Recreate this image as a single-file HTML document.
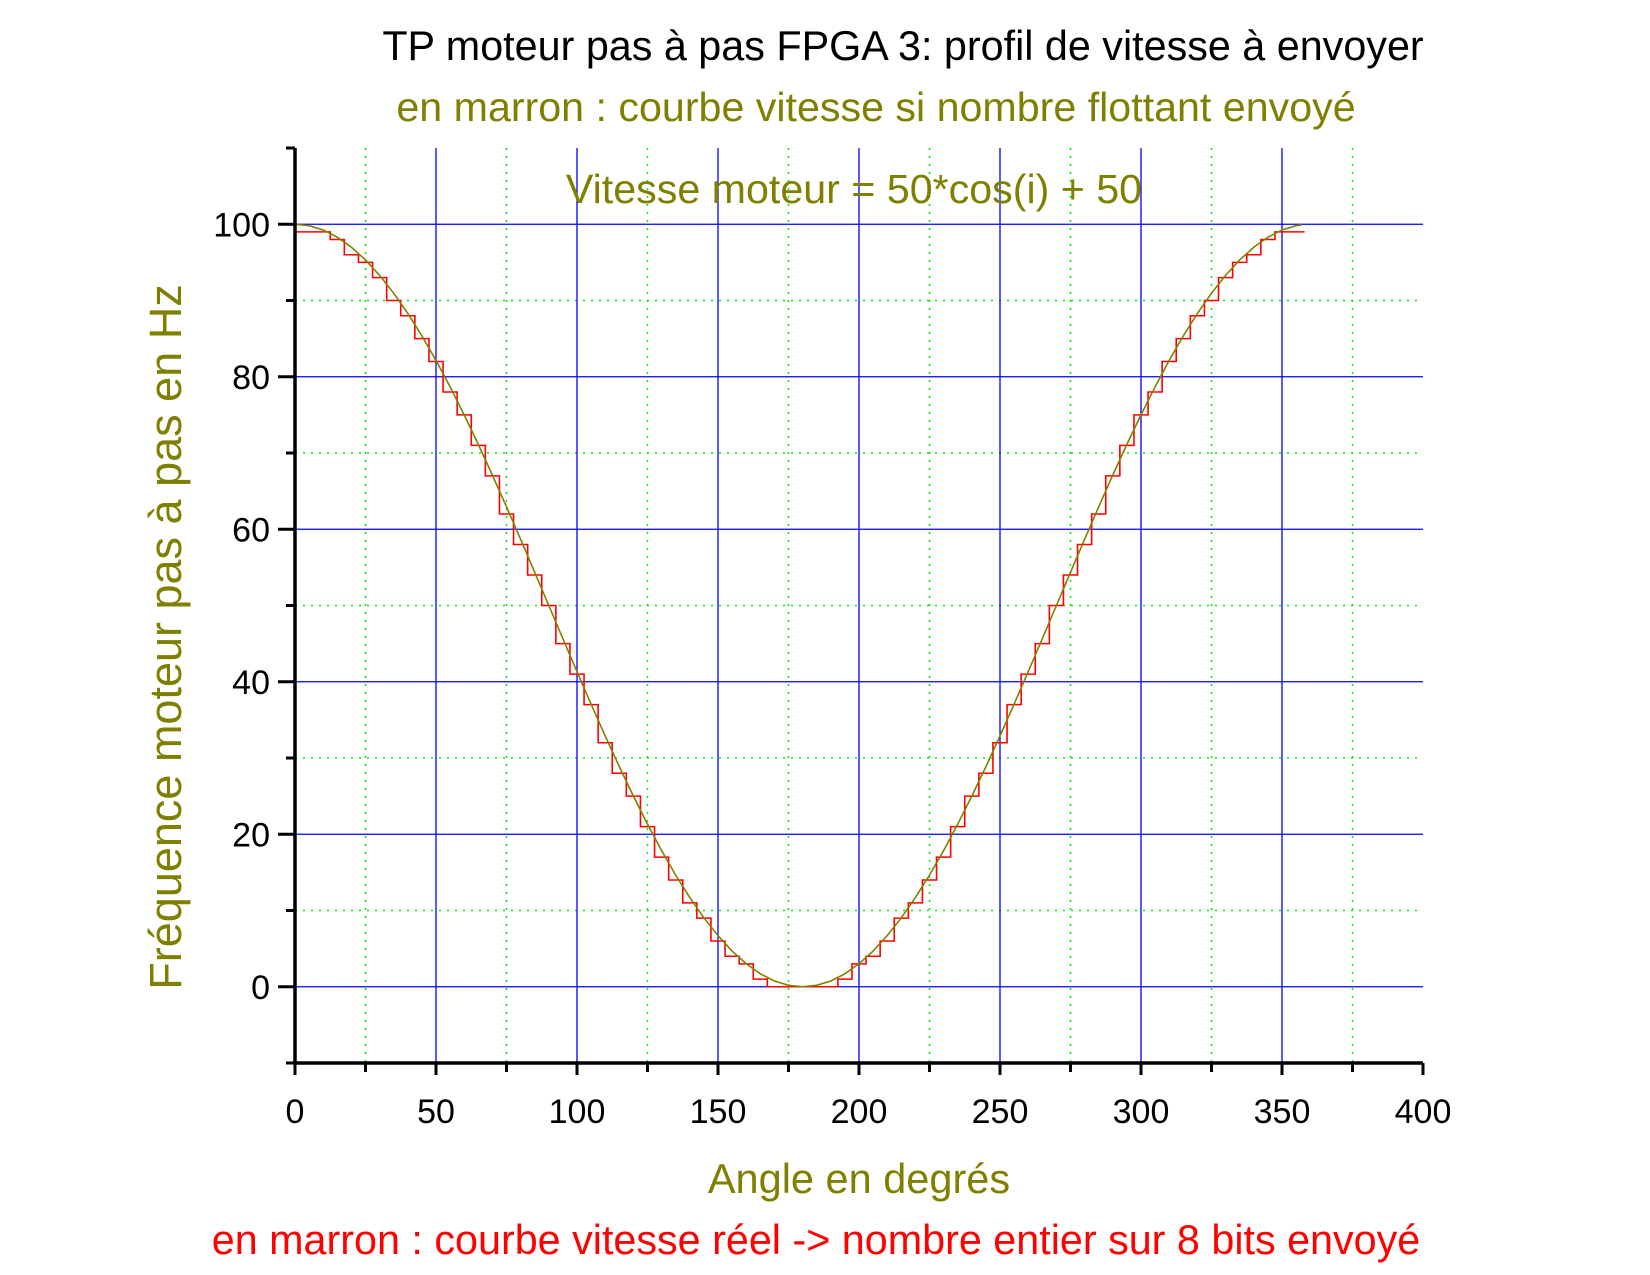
<!DOCTYPE html>
<html><head><meta charset="utf-8"><style>
html,body{margin:0;padding:0;background:#fff;}
svg{display:block;font-family:"Liberation Sans",sans-serif;}
</style></head><body>
<svg id="chart" width="1650" height="1275" viewBox="0 0 1650 1275" xmlns="http://www.w3.org/2000/svg">
<text x="903" y="60" font-size="41.3" text-anchor="middle" fill="#000">TP moteur pas à pas FPGA 3: profil de vitesse à envoyer</text>
<text x="876" y="121" font-size="41.2" text-anchor="middle" fill="#808000">en marron : courbe vitesse si nombre flottant envoyé</text>
<g id="grid"></g>
<g id="series"></g>
<g id="axes"></g>
<text x="854" y="203" font-size="41.2" text-anchor="middle" fill="#808000">Vitesse moteur = 50*cos(i) + 50</text>
<text transform="translate(181,637) rotate(-90)" font-size="45" text-anchor="middle" fill="#808000">Fréquence moteur pas à pas en Hz</text>
<text x="859" y="1193" font-size="41.5" text-anchor="middle" fill="#808000">Angle en degrés</text>
<text x="816" y="1254" font-size="41.3" text-anchor="middle" fill="#ff0000">en marron : courbe vitesse réel -&gt; nombre entier sur 8 bits envoyé</text>
</svg>
<script>
const angles = [0,5,10,15,20,25,30,35,40,45,50,55,60,65,70,75,80,85,90,95,100,105,110,115,120,125,130,135,140,145,150,155,160,165,170,175,180,185,190,195,200,205,210,215,220,225,230,235,240,245,250,255,260,265,270,275,280,285,290,295,300,305,310,315,320,325,330,335,340,345,350,355,357];
const floatSpeed = [100,99.81,99.24,98.30,96.98,95.32,93.30,90.96,88.30,85.36,82.14,78.68,75,71.13,67.10,62.94,58.68,54.36,50,45.64,41.32,37.06,32.90,28.87,25,21.32,17.86,14.64,11.70,9.04,6.70,4.68,3.02,1.70,0.76,0.19,0,0.19,0.76,1.70,3.02,4.68,6.70,9.04,11.70,14.64,17.86,21.32,25,28.87,32.90,37.06,41.32,45.64,50,54.36,58.68,62.94,67.10,71.13,75,78.68,82.14,85.36,88.30,90.96,93.30,95.32,96.98,98.30,99.24,99.81,99.93];
const intSpeed = [99,99,99,98,96,95,93,90,88,85,82,78,75,71,67,62,58,54,50,45,41,37,32,28,25,21,17,14,11,9,6,4,3,1,0,0,0,0,0,1,3,4,6,9,11,14,17,21,25,28,32,37,41,45,50,54,58,62,67,71,75,78,82,85,88,90,93,95,96,98,99,99,99];
const xTicks = [0,50,100,150,200,250,300,350,400];
const yTicks = [0,20,40,60,80,100];
const NS="http://www.w3.org/2000/svg";
const X0=295,X1=1423,Y0=1063,Y1=148,xmin=0,xmax=400,ymin=-10,ymax=110;
const sx=v=>X0+(v-xmin)/(xmax-xmin)*(X1-X0);
const sy=v=>Y0-(v-ymin)/(ymax-ymin)*(Y0-Y1);
function mk(parent,tag,attrs){const e=document.createElementNS(NS,tag);for(const k in attrs)e.setAttribute(k,attrs[k]);parent.appendChild(e);return e;}
const grid=document.getElementById('grid'),axes=document.getElementById('axes'),series=document.getElementById('series');
for(let v=25;v<400;v+=50){const l=mk(grid,'line',{x1:sx(v),x2:sx(v),y1:Y1,y2:Y0,stroke:'#00ee00','stroke-width':1.5,'stroke-dasharray':'2,6'});

}
for(let v=10;v<=100;v+=20){const l=mk(grid,'line',{x1:X0,x2:X1,y1:sy(v),y2:sy(v),stroke:'#00ee00','stroke-width':1.5,'stroke-dasharray':'2,6'});

}
xTicks.forEach(v=>{if(v===0||v===400)return;const l=mk(grid,'line',{x1:sx(v),x2:sx(v),y1:Y1,y2:Y0,stroke:'#0000ff','stroke-width':1.3});

});
yTicks.forEach(v=>{const l=mk(grid,'line',{x1:X0,x2:X1,y1:sy(v),y2:sy(v),stroke:'#0000ff','stroke-width':1.3});

});
// red step series (steps centred between samples)
let d='';intSpeed.forEach((v,i)=>{const y=sy(v);if(i===0)d+=`M${sx(angles[0])},${y}`;else{const xm=sx((angles[i-1]+angles[i])/2);d+=`H${xm}V${y}`;}});
d+=`H${sx(angles[angles.length-1]+1)}`;
const rp=mk(series,'path',{d:d,fill:'none',stroke:'#ff0000','stroke-width':1.6});


const fp=mk(series,'polyline',{points:floatSpeed.map((v,i)=>sx(angles[i])+','+sy(v)).join(' '),fill:'none',stroke:'#808000','stroke-width':1.6});


// axes
const ax=mk(axes,'line',{x1:X0-2,x2:X1,y1:Y0,y2:Y0,stroke:'#000','stroke-width':3.5});


const ay=mk(axes,'line',{x1:X0,x2:X0,y1:Y1,y2:Y0,stroke:'#000','stroke-width':3.5});


for(let v=0;v<=400;v+=25){const maj=v%50===0;const t=mk(axes,'line',{x1:sx(v),x2:sx(v),y1:Y0,y2:Y0+(maj?12:9),stroke:'#000','stroke-width':3});

}
for(let v=-10;v<=110;v+=10){const maj=v%20===0;const t=mk(axes,'line',{x1:X0-(maj?17:9),x2:X0,y1:sy(v),y2:sy(v),stroke:'#000','stroke-width':3});

}
xTicks.forEach(v=>{const t=mk(axes,'text',{x:sx(v),y:Y0+60,'font-size':34,'text-anchor':'middle',fill:'#000'});t.textContent=v;

});
yTicks.forEach(v=>{const t=mk(axes,'text',{x:270,y:sy(v)+12,'font-size':34,'text-anchor':'end',fill:'#000'});t.textContent=v;

});
</script>
</body></html>
